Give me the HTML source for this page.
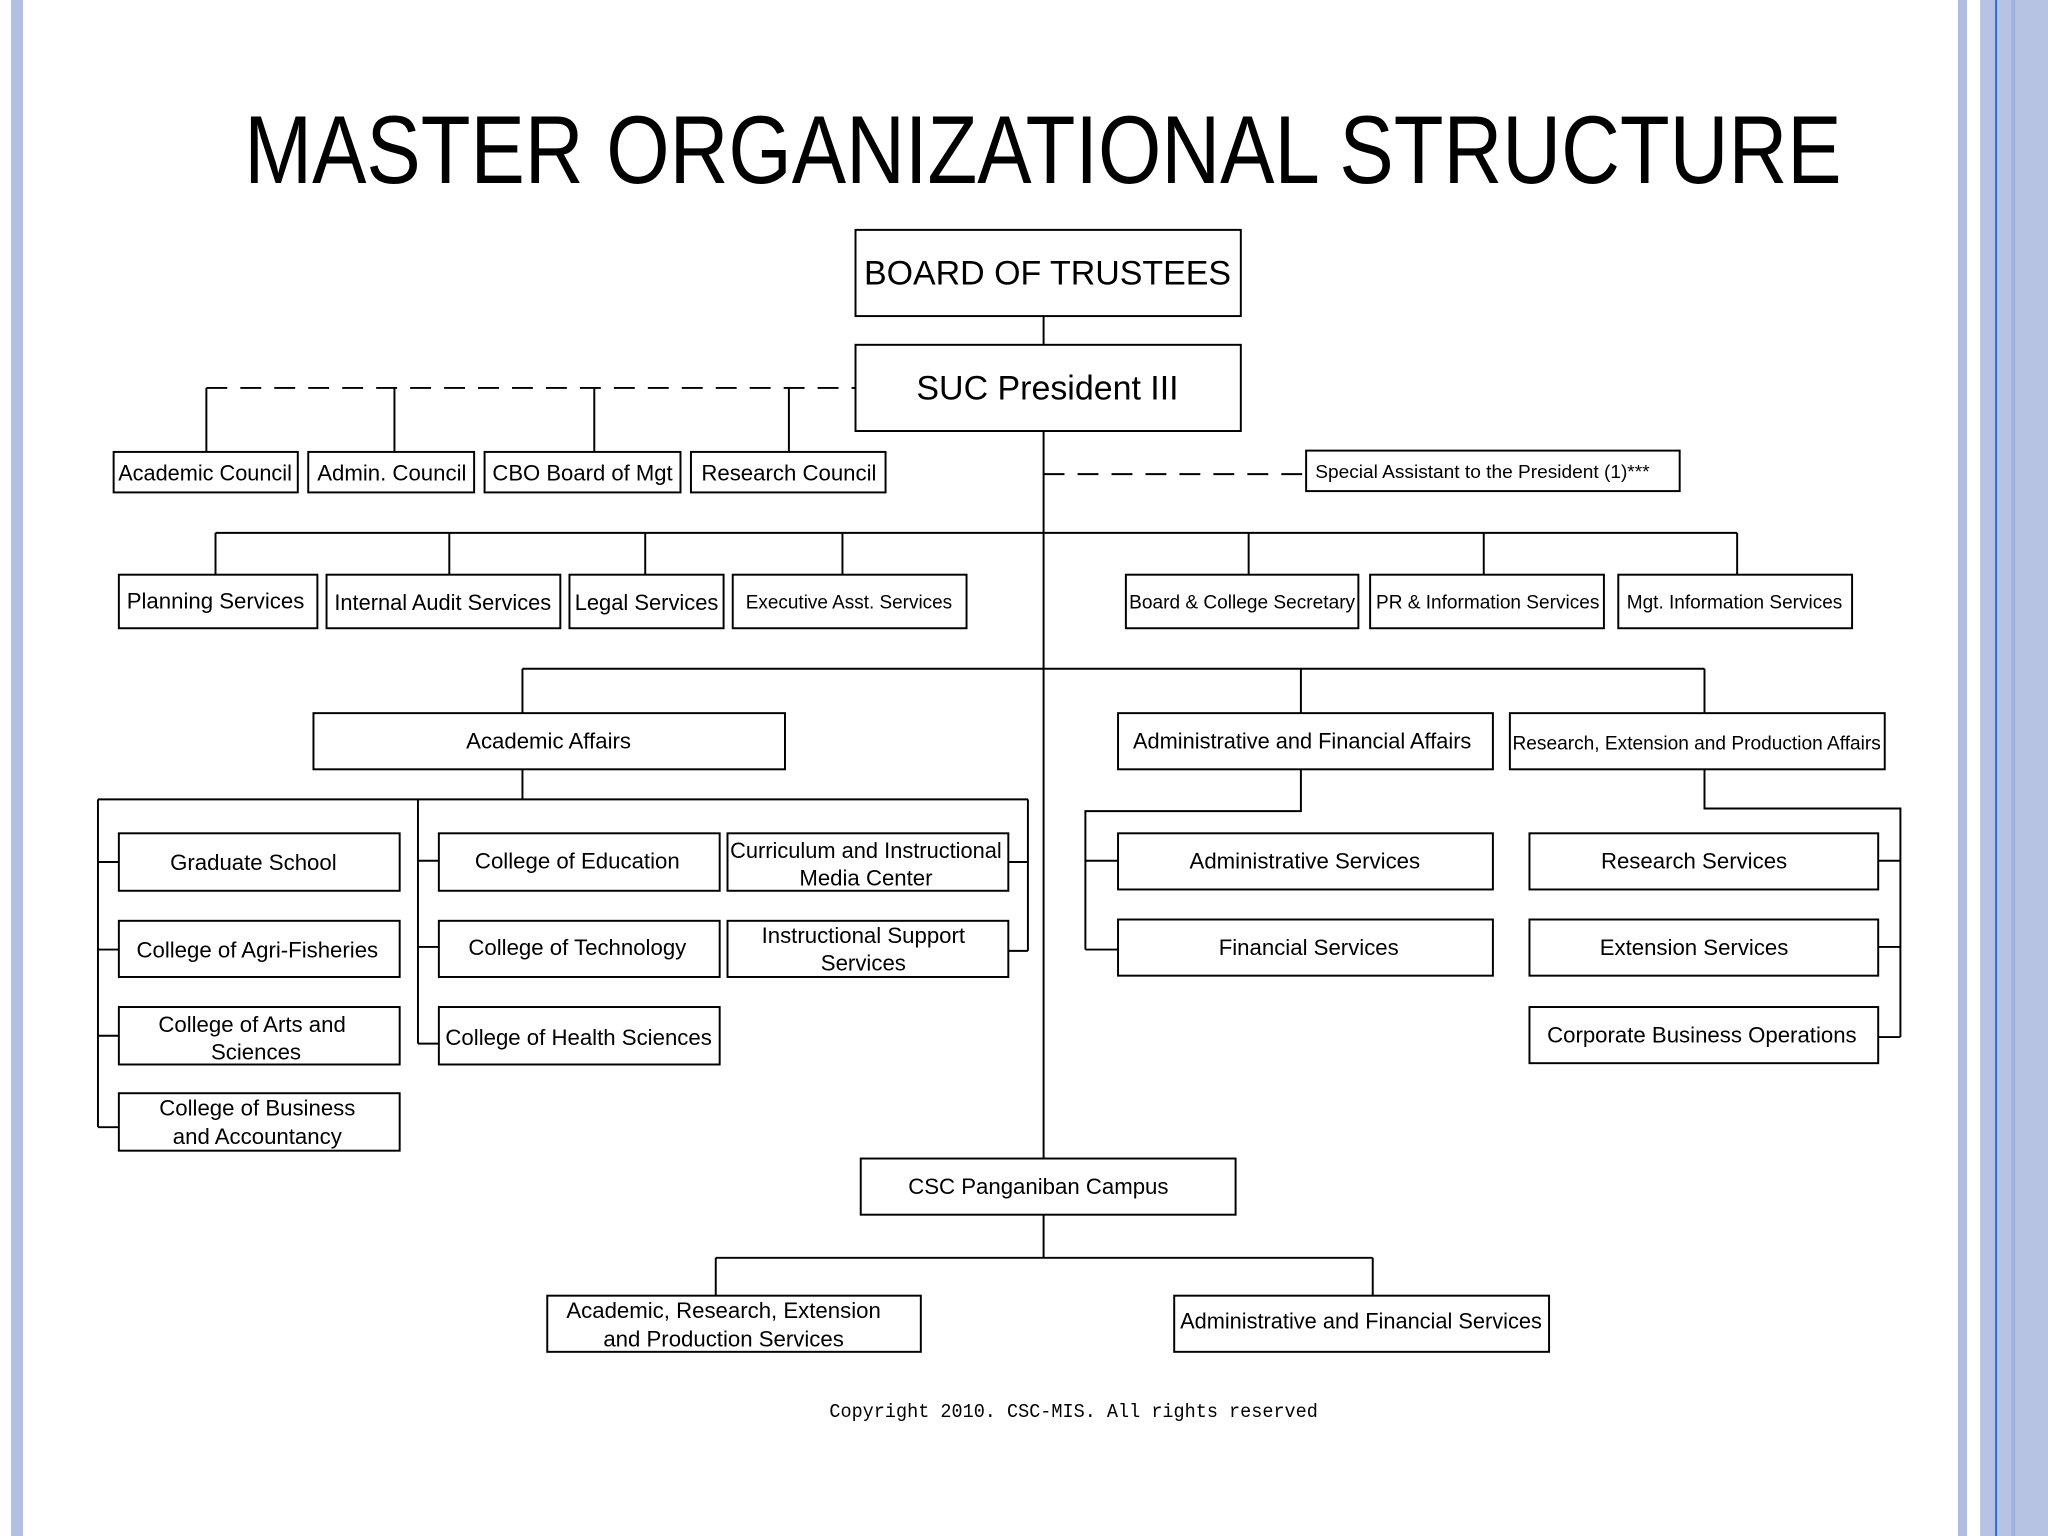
<!DOCTYPE html>
<html><head><meta charset="utf-8"><style>
html,body{margin:0;padding:0;background:#fff;}
svg{display:block;}
text{font-family:"Liberation Sans",Arial,sans-serif;fill:#000;}
</style></head><body>
<svg width="2048" height="1536" viewBox="0 0 1568 1176" xmlns="http://www.w3.org/2000/svg">
<rect x="0" y="0" width="1568" height="1176" fill="#fff"/>
<!-- side decorations -->
<rect x="8.4" y="0" width="9.2" height="1176" fill="#b3bfe2"/>
<rect x="1499" y="0" width="7" height="1176" fill="#b0bce0"/>
<rect x="1516" y="0" width="52" height="1176" fill="#b7c3e3"/>
<rect x="1527.5" y="0" width="1.5" height="1176" fill="#2d6cc8"/>
<rect x="1540" y="0" width="3" height="1176" fill="#9fb2de"/>

<text x="187" y="140" font-size="74" textLength="1223" lengthAdjust="spacingAndGlyphs">MASTER ORGANIZATIONAL STRUCTURE</text>

<g stroke="#000" stroke-width="1.5" fill="none">
<!-- dashed -->
<path d="M158 297H655" stroke-dasharray="16,10"/>
<path d="M799 363H1000" stroke-dasharray="16,10"/>
<path d="M158 297V346M302 297V346M455 297V346M604 297V346"/>
<path d="M799 242V264M799 330V887"/>
<path d="M165 408H1330M165 408V440M344 408V440M494 408V440M645 408V440M956 408V440M1136 408V440M1330 408V440"/>
<path d="M400 512H1305M400 512V546M996 512V546M1305 512V546"/>
<path d="M400 589V612M75 612H787M75 612V863M75 660H91M75 727H91M75 793H91M75 863H91"/>
<path d="M320 612V799M320 659H336M320 725H336M320 799H336"/>
<path d="M787 612V728M772 660H787M772 728H787"/>
<path d="M996 589V621H831V727M831 659H856M831 727H856"/>
<path d="M1305 589V619H1455V794M1438 659H1455M1438 725H1455M1438 794H1455"/>
<path d="M799 930V963M548 963H1051M548 963V992M1051 963V992"/>
<!-- boxes -->
<rect x="655" y="176" width="295" height="66"/>
<rect x="655" y="264" width="295" height="66"/>
<rect x="87" y="346" width="141" height="31"/>
<rect x="236" y="346" width="127" height="31"/>
<rect x="371" y="346" width="150" height="31"/>
<rect x="529" y="346" width="149" height="31"/>
<rect x="1000" y="345" width="286" height="31"/>
<rect x="91" y="440" width="152" height="41"/>
<rect x="250" y="440" width="179" height="41"/>
<rect x="436" y="440" width="118" height="41"/>
<rect x="561" y="440" width="179" height="41"/>
<rect x="862" y="440" width="178" height="41"/>
<rect x="1049" y="440" width="179" height="41"/>
<rect x="1239" y="440" width="179" height="41"/>
<rect x="240" y="546" width="361" height="43"/>
<rect x="856" y="546" width="287" height="43"/>
<rect x="1156" y="546" width="287" height="43"/>
<rect x="91" y="638" width="215" height="44"/>
<rect x="91" y="705" width="215" height="43"/>
<rect x="91" y="771" width="215" height="44"/>
<rect x="91" y="837" width="215" height="44"/>
<rect x="336" y="638" width="215" height="44"/>
<rect x="336" y="705" width="215" height="43"/>
<rect x="336" y="771" width="215" height="44"/>
<rect x="557" y="638" width="215" height="44"/>
<rect x="557" y="705" width="215" height="43"/>
<rect x="856" y="638" width="287" height="43"/>
<rect x="856" y="704" width="287" height="43"/>
<rect x="1171" y="638" width="267" height="43"/>
<rect x="1171" y="704" width="267" height="43"/>
<rect x="1171" y="771" width="267" height="43"/>
<rect x="659" y="887" width="287" height="43"/>
<rect x="419" y="992" width="286" height="43"/>
<rect x="899" y="992" width="287" height="43"/>
</g>

<g font-size="17" text-anchor="middle">
<text x="802" y="218" font-size="26">BOARD OF TRUSTEES</text>
<text x="802" y="306" font-size="26">SUC President III</text>
<text x="157" y="368" textLength="133" lengthAdjust="spacingAndGlyphs">Academic Council</text>
<text x="300" y="368">Admin. Council</text>
<text x="446" y="368" textLength="138" lengthAdjust="spacingAndGlyphs">CBO Board of Mgt</text>
<text x="604" y="368">Research Council</text>
<text x="1135" y="366" font-size="14" textLength="256" lengthAdjust="spacingAndGlyphs">Special Assistant to the President (1)***</text>
<text x="165" y="466">Planning Services</text>
<text x="339" y="467" textLength="166" lengthAdjust="spacingAndGlyphs">Internal Audit Services</text>
<text x="495" y="467" textLength="110" lengthAdjust="spacingAndGlyphs">Legal Services</text>
<text x="650" y="466" font-size="15" textLength="158" lengthAdjust="spacingAndGlyphs">Executive Asst. Services</text>
<text x="951" y="466" font-size="15" textLength="173" lengthAdjust="spacingAndGlyphs">Board &amp; College Secretary</text>
<text x="1139" y="466" font-size="15" textLength="171" lengthAdjust="spacingAndGlyphs">PR &amp; Information Services</text>
<text x="1328" y="466" font-size="15" textLength="165" lengthAdjust="spacingAndGlyphs">Mgt. Information Services</text>
<text x="420" y="573">Academic Affairs</text>
<text x="997" y="573" textLength="259" lengthAdjust="spacingAndGlyphs">Administrative and Financial Affairs</text>
<text x="1299" y="574" font-size="15" textLength="282" lengthAdjust="spacingAndGlyphs">Research, Extension and Production Affairs</text>
<text x="194" y="666">Graduate School</text>
<text x="197" y="733">College of Agri-Fisheries</text>
<text x="193" y="790">College of Arts and</text>
<text x="196" y="811">Sciences</text>
<text x="197" y="854">College of Business</text>
<text x="197" y="876">and Accountancy</text>
<text x="442" y="665">College of Education</text>
<text x="442" y="731">College of Technology</text>
<text x="443" y="800">College of Health Sciences</text>
<text x="663" y="657" textLength="208" lengthAdjust="spacingAndGlyphs">Curriculum and Instructional</text>
<text x="663" y="678">Media Center</text>
<text x="661" y="722">Instructional Support</text>
<text x="661" y="743">Services</text>
<text x="999" y="665">Administrative Services</text>
<text x="1002" y="731">Financial Services</text>
<text x="1297" y="665">Research Services</text>
<text x="1297" y="731">Extension Services</text>
<text x="1303" y="798">Corporate Business Operations</text>
<text x="795" y="914">CSC Panganiban Campus</text>
<text x="554" y="1009">Academic, Research, Extension</text>
<text x="554" y="1031">and Production Services</text>
<text x="1042" y="1017" textLength="277" lengthAdjust="spacingAndGlyphs">Administrative and Financial Services</text>
<text x="822" y="1085" font-size="15" font-family="Liberation Mono, monospace" style="font-family:'Liberation Mono',monospace" textLength="374" lengthAdjust="spacingAndGlyphs">Copyright 2010. CSC-MIS. All rights reserved</text>
</g>
</svg>
</body></html>
